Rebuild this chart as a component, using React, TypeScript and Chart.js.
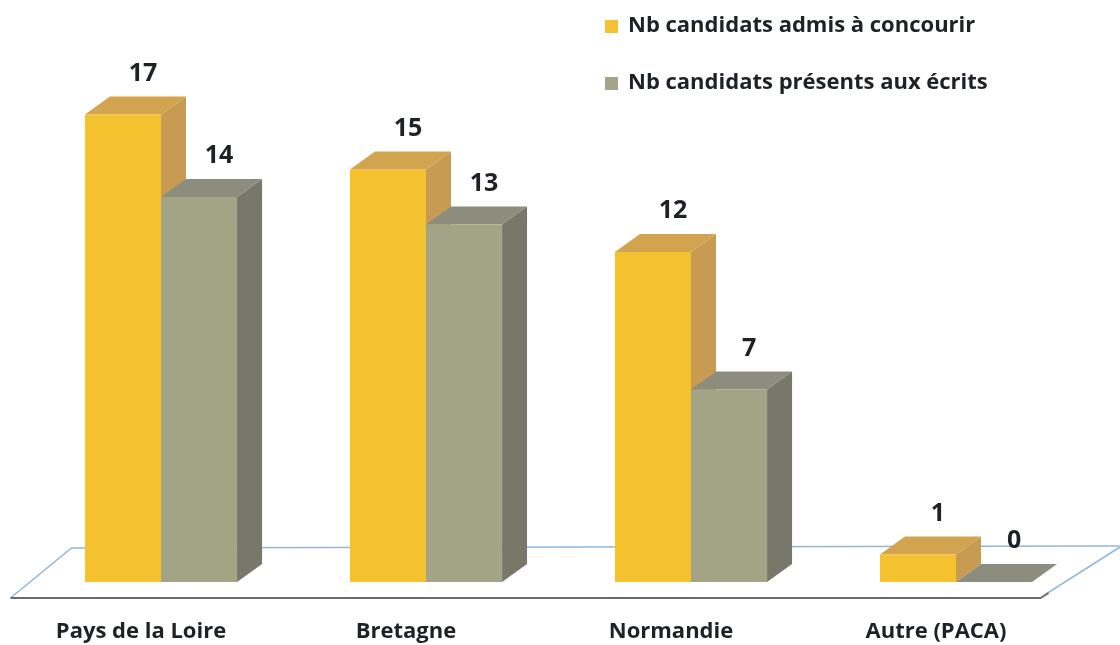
import React, { useEffect, useRef } from "react";
import { Chart, registerables } from "chart.js";

Chart.register(...registerables);

const categories = ["Pays de la Loire", "Bretagne", "Normandie", "Autre (PACA)"];
const admis = [17, 15, 12, 1];
const presents = [14, 13, 7, 0];
const seriesNames = ["Nb candidats admis à concourir", "Nb candidats présents aux écrits"];

const FRONT = ["#F4C22E", "#A3A386"];
const TOP = ["#D3A44F", "#8D8D7D"];
const SIDE = ["#C79C52", "#78786A"];
const LEGEND_COLORS = ["#F2C232", "#A4A48C"];

const FONT = "'Open Sans', Lato, sans-serif";
const DX = 25;
const DY = -18;

const threeD = {
  id: "threeD",
  beforeDatasetsDraw(chart: any) {
    const ctx = chart.ctx;
    const y0 = chart.scales.y.getPixelForValue(0);
    const { left, right } = chart.chartArea;
    const fl = left - 18;
    const fr = right - 48;
    const fy = y0 + 16;
    const by = y0 - 34;
    ctx.save();
    ctx.strokeStyle = "#8FB8DA";
    ctx.lineWidth = 1.5;
    ctx.beginPath();
    ctx.moveTo(fl, fy);
    ctx.lineTo(fl + 61, by);
    ctx.lineTo(chart.width, by - 2);
    ctx.moveTo(fr + 4, fy - 3);
    ctx.lineTo(chart.width, by - 1);
    ctx.stroke();
    ctx.strokeStyle = "#6A6A6A";
    ctx.lineWidth = 2;
    ctx.beginPath();
    ctx.moveTo(fl, fy);
    ctx.lineTo(fr, fy);
    ctx.lineTo(fr + 8, fy - 5);
    ctx.stroke();

    const n = chart.data.labels.length;
    for (let i = 0; i < n; i++) {
      for (let d = 0; d < chart.data.datasets.length; d++) {
        const el = chart.getDatasetMeta(d).data[i];
        if (!el) continue;
        const { x, y, base, width } = el.getProps(["x", "y", "base", "width"], true);
        const l = x - width / 2;
        const r = x + width / 2;
        ctx.fillStyle = SIDE[d];
        ctx.beginPath();
        ctx.moveTo(r, y);
        ctx.lineTo(r + DX, y + DY);
        ctx.lineTo(r + DX, base + DY);
        ctx.lineTo(r, base);
        ctx.closePath();
        ctx.fill();
        ctx.fillStyle = TOP[d];
        ctx.beginPath();
        ctx.moveTo(l, y);
        ctx.lineTo(l + DX, y + DY);
        ctx.lineTo(r + DX, y + DY);
        ctx.lineTo(r, y);
        ctx.closePath();
        ctx.fill();
      }
    }
    ctx.restore();
  },
  afterDatasetsDraw(chart: any) {
    const ctx = chart.ctx;
    ctx.save();
    ctx.font = `bold 25px ${FONT}`;
    ctx.fillStyle = "#1E2226";
    ctx.textAlign = "center";
    ctx.textBaseline = "middle";
    chart.data.datasets.forEach((ds: any, d: number) => {
      chart.getDatasetMeta(d).data.forEach((el: any, i: number) => {
        const { x, y } = el.getProps(["x", "y"], true);
        ctx.fillText(String(ds.data[i]), x + 20, y - 41);
      });
    });
    ctx.restore();
  },
  afterDraw(chart: any) {
    const ctx = chart.ctx;
    ctx.save();
    ctx.font = `bold 22px ${FONT}`;
    ctx.textBaseline = "middle";
    ctx.textAlign = "left";
    chart.data.datasets.forEach((ds: any, d: number) => {
      const cy = 26 + d * 57;
      ctx.fillStyle = LEGEND_COLORS[d];
      ctx.fillRect(605, cy - 6, 13, 13);
      ctx.fillStyle = "#1E2226";
      ctx.fillText(ds.label, 628, cy);
    });
    ctx.restore();
  },
};

export default function App() {
  const ref = useRef<HTMLCanvasElement>(null);
  useEffect(() => {
    if (!ref.current) return;
    const chart = new Chart(ref.current, {
      type: "bar",
      data: {
        labels: categories,
        datasets: [
          { label: seriesNames[0], data: admis, backgroundColor: FRONT[0], borderWidth: 0 },
          { label: seriesNames[1], data: presents, backgroundColor: FRONT[1], borderWidth: 0 },
        ],
      },
      options: {
        responsive: false,
        animation: false,
        events: [],
        layout: { padding: { top: 32, left: 28.5, right: 31.5, bottom: 0 } },
        plugins: { legend: { display: false }, tooltip: { enabled: false } },
        datasets: { bar: { categoryPercentage: 0.574, barPercentage: 1 } },
        scales: {
          y: { display: false, min: -1.2, max: 20 },
          x: {
            grid: { display: false, drawTicks: false },
            border: { display: false },
            afterFit: (s: any) => { s.height = 30; },
            ticks: {
              padding: 4,
              labelOffset: -20,
              color: "#1E2226",
              font: { family: FONT, size: 22, weight: "bold" },
            },
          },
        },
      },
      plugins: [threeD],
    });
    return () => chart.destroy();
  }, []);
  return (
    <div style={{ position: "fixed", left: 0, top: 0, width: 1120, height: 645, background: "#fff" }}>
      <canvas ref={ref} width={1120} height={645} />
    </div>
  );
}
